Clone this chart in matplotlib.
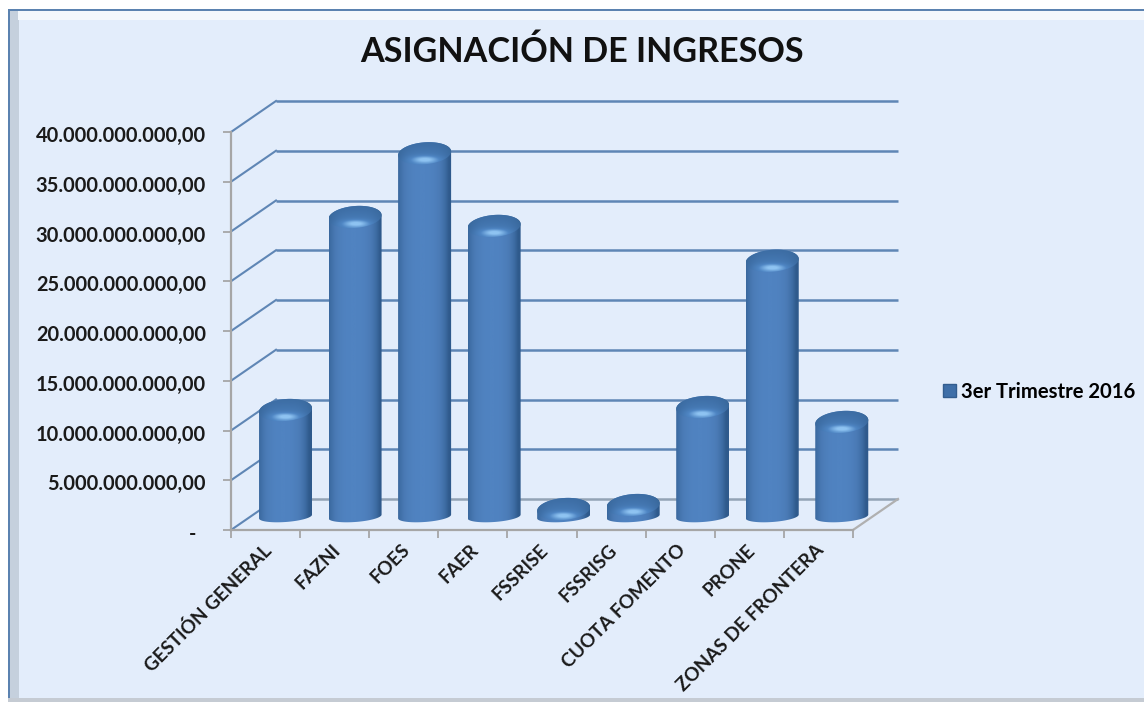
import numpy as np
import matplotlib
matplotlib.use("Agg")
import matplotlib.pyplot as plt
from matplotlib.colors import LinearSegmentedColormap
from matplotlib.patches import Patch, Polygon, Rectangle
from matplotlib.transforms import ScaledTranslation

categories = ["GESTIÓN GENERAL", "FAZNI", "FOES", "FAER", "FSSRISE", "FSSRISG",
              "CUOTA FOMENTO", "PRONE", "ZONAS DE FRONTERA"]
values = [10.7e9, 30.1e9, 36.5e9, 29.2e9, 0.75e9, 1.15e9, 11.0e9, 25.7e9, 9.5e9]
y_ticks = [0, 5e9, 10e9, 15e9, 20e9, 25e9, 30e9, 35e9, 40e9]
y_labels = ["-  ", "5.000.000.000,00", "10.000.000.000,00", "15.000.000.000,00",
            "20.000.000.000,00", "25.000.000.000,00", "30.000.000.000,00",
            "35.000.000.000,00", "40.000.000.000,00"]
series_name = "3er Trimestre 2016"
title = "ASIGNACIÓN DE INGRESOS"

W, H = 1144, 702
plt.rcParams["font.family"] = ["Lato", "DejaVu Sans"]
fig = plt.figure(figsize=(W / 100, H / 100), dpi=100, facecolor="white")

# panel with the bevelled frame, in pixels
bg = fig.add_axes([0, 0, 1, 1])
bg.set_xlim(0, W)
bg.set_ylim(H, 0)
bg.axis("off")
bg.add_patch(Rectangle((8, 9), W, 692, fc="#5b82b0", ec="none"))
bg.add_patch(Rectangle((10, 11), W, 687, fc="#c5d0dd", ec="none"))
bg.add_patch(Rectangle((18, 11), W, 9, fc="#f3f7fc", ec="none"))
bg.add_patch(Rectangle((19, 20), W, 678, fc="#e3edfb", ec="none"))
bg.add_patch(Rectangle((8, 698), W, 4, fc="#c5cbd3", ec="none"))

# front plane of the 3d box
left, right, top, bottom = 231, 853, 132, 530
ax = fig.add_axes([left / W, 1 - bottom / H, (right - left) / W, (bottom - top) / H])
ax.patch.set_alpha(0)
ax.set_zorder(2)
xmax = len(categories)
ymax = y_ticks[-1]
px_x = xmax / (right - left)
px_y = ymax / (bottom - top)

depth_x = 45 * px_x
depth_y = 31 * px_y

for v in y_ticks:
    col = "#5f86b5" if v > 0 else "#93a3b5"
    ax.plot([depth_x, xmax + depth_x], [v + depth_y, v + depth_y], color=col, lw=1.8,
            clip_on=False, zorder=1, solid_capstyle="butt")
    ax.plot([0, depth_x], [v, v + depth_y], color="#5f86b5", lw=1.5, clip_on=False, zorder=1)
ax.plot([xmax, xmax + depth_x], [0, depth_y], color="#b0b0b0", lw=1.6, clip_on=False, zorder=1)

body_cmap = LinearSegmentedColormap.from_list("body", ["#2f5a8c", "#3d6ca3", "#4a7ab5", "#5083c1"])
cap_cmap = LinearSegmentedColormap.from_list("cap", ["#32608f", "#3f70a8", "#4f86c4", "#8fc4f2"])

half_w = 26.5
cap_b = 11
foot_b = 5.5
tilt = 0.07
bar_step = 1.006  # bars sit a little wider apart than the ticks
t = np.linspace(0, 2 * np.pi, 120)
u = np.linspace(-1, 1, 120)
shade = (1 - np.abs(u + 0.1) ** 2.6).clip(0, 1)[None, :]
gu, gv = np.meshgrid(u, u)
glow = (0.45 - 0.2 * gv) * (1 - 0.6 * np.abs(gu) ** 3)
glow = glow + 0.5 * np.exp(-(gu / 0.5) ** 2 - ((gv + 0.5) / 0.28) ** 2)

for i, val in enumerate(values):
    cx = i * bar_step + 0.5 + 20 * px_x
    base = 13.5 * px_y
    a = half_w * px_x
    b = cap_b * px_y
    f = foot_b * px_y
    s = tilt * half_w * px_y
    ctop = base + val

    ang = np.linspace(np.pi, 2 * np.pi, 60)
    foot_x = cx + a * np.cos(ang)
    foot_y = base + f * np.sin(ang) + s * np.cos(ang)
    ang2 = np.linspace(0, np.pi, 60)
    head_x = cx + a * np.cos(ang2)
    head_y = ctop + b * np.sin(ang2) + s * np.cos(ang2)
    outline = Polygon(np.column_stack([np.r_[foot_x, head_x], np.r_[foot_y, head_y]]),
                      closed=True, fc="none", ec="none", transform=ax.transData, clip_on=False)
    ax.add_patch(outline)
    im = ax.imshow(shade, cmap=body_cmap, vmin=0, vmax=1, aspect="auto", origin="lower",
                   extent=[cx - a, cx + a, base - f - s, ctop + b + s], zorder=3 + i)
    im.set_clip_box(fig.bbox)
    im.set_clip_path(outline)

    cap = Polygon(np.column_stack([cx + a * np.cos(t),
                                   ctop + b * np.sin(t) + s * np.cos(t)]),
                  closed=True, fc="none", ec="none", transform=ax.transData, clip_on=False)
    ax.add_patch(cap)
    im2 = ax.imshow(glow, cmap=cap_cmap, vmin=0, vmax=1, aspect="auto", origin="lower",
                    extent=[cx - a, cx + a, ctop - b - s, ctop + b + s], zorder=3 + i + 0.5)
    im2.set_clip_box(fig.bbox)
    im2.set_clip_path(cap)

ax.set_xlim(0, xmax)
ax.set_ylim(0, ymax)
for side in ["top", "right"]:
    ax.spines[side].set_visible(False)
for side in ["left", "bottom"]:
    ax.spines[side].set_color("#a6a6a6")
    ax.spines[side].set_linewidth(1.6)

ax.set_yticks(y_ticks)
ax.set_yticklabels(y_labels, fontsize=14.4, fontweight="bold", color="#1a1a1a")
ax.tick_params(axis="y", length=6, width=1.3, color="#a6a6a6", pad=12)
for lab in ax.get_yticklabels():
    lab.set_transform(lab.get_transform() + ScaledTranslation(0, -2 / 100, fig.dpi_scale_trans))

ax.set_xticks(range(xmax + 1))
ax.set_xticklabels([])
ax.tick_params(axis="x", which="major", length=6, width=1.3, color="#a6a6a6")
ax.set_xticks(np.arange(xmax) + 0.5, minor=True)
ax.set_xticklabels(categories, minor=True, rotation=45, ha="right", va="top",
                   rotation_mode="anchor", fontsize=13.6, fontweight="bold", color="#1a1a1a")
ax.tick_params(axis="x", which="minor", length=0, pad=8)
for lab in ax.get_xticklabels(minor=True):
    lab.set_transform(lab.get_transform() + ScaledTranslation(-3 / 100, 0, fig.dpi_scale_trans))

fig.text(582 / W, 1 - 52 / H, title, ha="center", va="center", fontsize=24.6,
         fontweight="bold", color="#111111", zorder=5)

fig.legend(handles=[Patch(fc="#3f6fa8", ec="#335d8f", label=series_name)],
           loc="center left", bbox_to_anchor=(925 / W, 1 - 392 / H), frameon=False,
           handlelength=0.62, handleheight=0.62, handletextpad=0.25,
           prop={"weight": "bold", "size": 14.6})

fig.savefig("out.png", dpi=100, facecolor=fig.get_facecolor())
